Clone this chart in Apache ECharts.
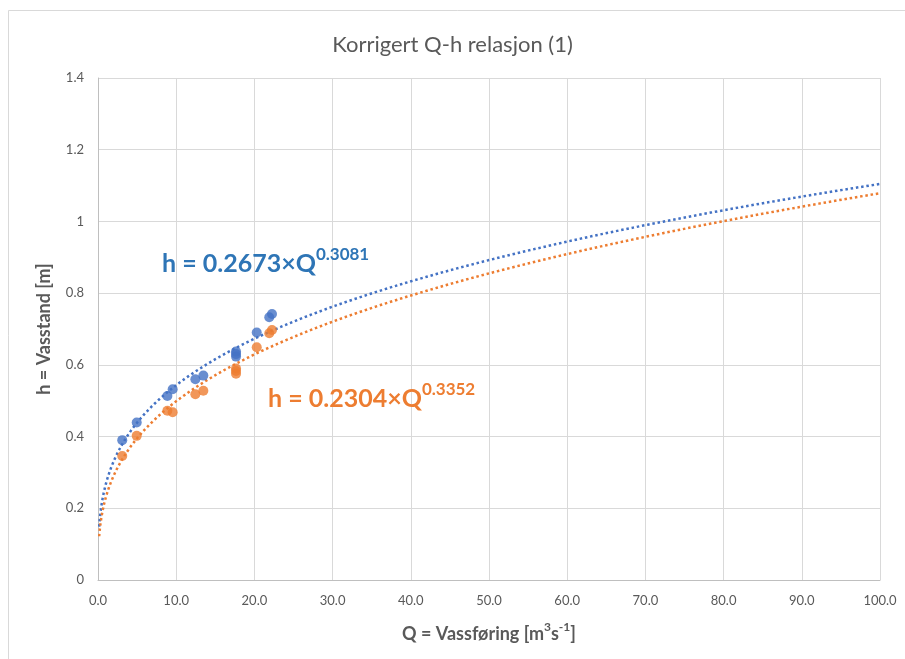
<!DOCTYPE html>
<html>
<head>
<meta charset="utf-8">
<script src="https://cdn.jsdelivr.net/npm/echarts@6/dist/echarts.min.js"></script>
<style>
  html, body { margin: 0; padding: 0; background: #fff; }
  #chart { width: 905px; height: 659px; }
</style>
</head>
<body>
<div id="chart"></div>
<script>
// Measured discharge Q [m3/s] and stage h [m]
const discharge = [3.1, 4.95, 8.87, 9.55, 12.45, 13.47, 17.65, 17.65, 17.65, 20.3, 21.9, 22.25];
const stageSeries1 = [0.39, 0.439, 0.513, 0.532, 0.56, 0.57, 0.637, 0.630, 0.623, 0.69, 0.733, 0.742];
const stageSeries2 = [0.346, 0.402, 0.472, 0.468, 0.518, 0.528, 0.590, 0.583, 0.575, 0.649, 0.688, 0.697];

// Power-law rating curves h = a * Q^b (coefficients as printed on the chart)
const fit1 = [0.2673, 0.3081];
const fit2 = [0.2304, 0.3352];

const xTicks = [0, 10, 20, 30, 40, 50, 60, 70, 80, 90, 100];
const yTicks = [0, 0.2, 0.4, 0.6, 0.8, 1, 1.2, 1.4];

const FONT = 'Lato, "Liberation Sans", sans-serif';
const BLUE = '#4472C4';
const ORANGE = '#ED7D31';

// Sample the rating curve densely near zero where it bends most
function curve(fit) {
  const pts = [];
  const q0 = 0.15, q1 = 100, n = 240;
  for (let i = 0; i <= n; i++) {
    const q = q0 * Math.pow(q1 / q0, i / n);
    pts.push([q, fit[0] * Math.pow(q, fit[1])]);
  }
  return pts;
}

const chart = echarts.init(document.getElementById('chart'));

const supRich = (color) => ({
  b: { fontFamily: FONT, fontSize: 25, fontWeight: 'bold', fill: color, lineHeight: 30, verticalAlign: 'bottom' },
  s: { fontFamily: FONT, fontSize: 17, fontWeight: 'bold', fill: color, lineHeight: 30, verticalAlign: 'top' }
});

chart.setOption({
  backgroundColor: '#fff',
  animation: false,
  title: {
    text: 'Korrigert Q-h relasjon (1)',
    left: 'center',
    top: 29,
    textStyle: { fontFamily: FONT, fontSize: 22, fontWeight: 'normal', color: '#595959' }
  },
  grid: { left: 98, right: 25, top: 78, bottom: 79, containLabel: false },
  xAxis: {
    type: 'value',
    min: xTicks[0],
    max: xTicks[xTicks.length - 1],
    interval: 10,
    name: '{b|Q = Vassføring [m}{s|3}{b|s}{s|-1}{b|]}',
    nameLocation: 'middle',
    nameGap: 41,
    nameTextStyle: {
      rich: {
        b: { fontFamily: FONT, fontSize: 18, fontWeight: 'bold', color: '#595959', lineHeight: 22, verticalAlign: 'bottom' },
        s: { fontFamily: FONT, fontSize: 12, fontWeight: 'bold', color: '#595959', lineHeight: 22, verticalAlign: 'top' }
      }
    },
    axisLine: { show: true, lineStyle: { color: '#BFBFBF', width: 1 } },
    axisTick: { show: false },
    axisLabel: {
      margin: 14,
      fontFamily: FONT, fontSize: 13, color: '#595959',
      formatter: (v) => v.toFixed(1)
    },
    splitLine: { show: true, lineStyle: { color: '#D9D9D9', width: 1 } }
  },
  yAxis: {
    type: 'value',
    min: yTicks[0],
    max: yTicks[yTicks.length - 1],
    interval: 0.2,
    name: 'h = Vasstand [m]',
    nameLocation: 'middle',
    nameGap: 45,
    nameTextStyle: { fontFamily: FONT, fontSize: 18, fontWeight: 'bold', color: '#595959' },
    axisLine: { show: true, lineStyle: { color: '#BFBFBF', width: 1 } },
    axisTick: { show: false },
    axisLabel: {
      margin: 14,
      fontFamily: FONT, fontSize: 13, color: '#595959',
      formatter: (v) => String(Math.round(v * 10) / 10)
    },
    splitLine: { show: true, lineStyle: { color: '#D9D9D9', width: 1 } }
  },
  series: [
    {
      type: 'line',
      data: curve(fit1),
      showSymbol: false,
      smooth: false,
      lineStyle: { color: BLUE, width: 2.5, type: [2.5, 2.8], cap: 'butt' },
      z: 2,
      silent: true
    },
    {
      type: 'line',
      data: curve(fit2),
      showSymbol: false,
      smooth: false,
      lineStyle: { color: ORANGE, width: 2.5, type: [2.5, 2.8], cap: 'butt' },
      z: 2,
      silent: true
    },
    {
      type: 'scatter',
      data: discharge.map((q, i) => [q, stageSeries1[i]]),
      symbol: 'circle',
      symbolSize: 10,
      itemStyle: { color: BLUE },
      z: 3
    },
    {
      type: 'scatter',
      data: discharge.map((q, i) => [q, stageSeries2[i]]),
      symbol: 'circle',
      symbolSize: 10,
      itemStyle: { color: ORANGE },
      z: 3
    }
  ],
  graphic: [
    {
      type: 'rect',
      shape: { x: 8.5, y: 10.5, width: 1000, height: 1000 },
      style: { fill: 'none', stroke: '#D9D9D9', lineWidth: 1 },
      silent: true,
      z: -1
    },
    {
      type: 'text',
      left: 162,
      top: 246,
      style: {
        text: '{b|h = ' + fit1[0] + '×Q}{s|' + fit1[1] + '}',
        rich: supRich('#2E75B6')
      },
      z: 10
    },
    {
      type: 'text',
      left: 268,
      top: 381,
      style: {
        text: '{b|h = ' + fit2[0] + '×Q}{s|' + fit2[1] + '}',
        rich: supRich(ORANGE)
      },
      z: 10
    }
  ]
});
</script>
</body>
</html>
